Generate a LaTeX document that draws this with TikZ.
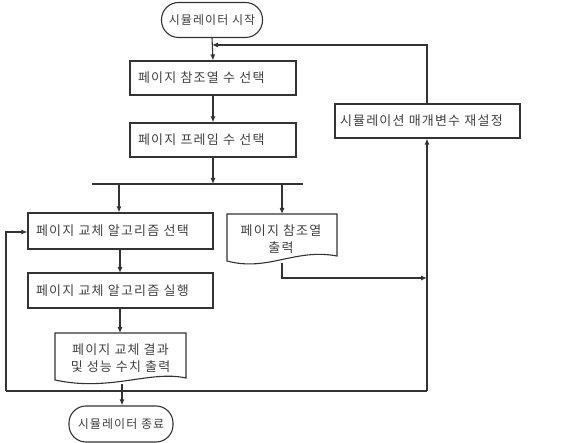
\documentclass[tikz,border=0pt]{standalone}
\usepackage{fontspec}
\setmainfont{Noto Sans CJK KR}[LetterSpace=9]
\usetikzlibrary{arrows.meta}
\begin{document}
\begin{tikzpicture}[x=1pt,y=-1pt,
  ln/.style={draw=black!80,line width=1.1pt},
  arr/.style={ln,-{Latex[length=6pt,width=5pt]}},
  procbox/.style={ln,rectangle,inner xsep=8pt,inner ysep=0pt,align=left,font=\fontsize{13}{15}\selectfont,text=black!75},
  termbox/.style={ln,rectangle,rounded corners=17pt,inner sep=0pt,font=\fontsize{12}{14}\selectfont,text=black!75},
  txt/.style={inner sep=0pt,font=\fontsize{13}{16.5}\selectfont,text=black!75,align=center}]
\useasboundingbox (0,0) rectangle (562,443);
% terminators
\node[termbox,minimum width=101pt,minimum height=35pt] (start) at (212,20) {시뮬레이터 시작};
\node[termbox,minimum width=104pt,minimum height=36pt] (stop) at (121,424) {시뮬레이터 종료};
% process boxes
\node[procbox,text width=150pt,minimum height=34pt] (b1) at (213,78) {페이지 참조열 수 선택};
\node[procbox,text width=150pt,minimum height=34pt] (b2) at (213,140) {페이지 프레임 수 선택};
\node[procbox,text width=169pt,minimum height=36pt] (b3) at (120.5,231) {페이지 교체 알고리즘 선택};
\node[procbox,text width=169pt,minimum height=35pt] (b4) at (120.5,290.5) {페이지 교체 알고리즘 실행};
\node[procbox,inner xsep=5pt,text width=175pt,minimum height=34pt] (reset) at (427.5,121) {시뮬레이션 매개변수 재설정};
% documents
\draw[ln] (227,214) -- (337,214) -- (337,256) .. controls (295,248) and (268,272) .. (227,261) -- cycle;
\node[txt] (d1) at (281,239) {페이지 참조열\\출력};
\coordinate (d1b) at (282,263);
\draw[ln] (55,333) -- (186,333) -- (186,378) .. controls (150,370) and (110,392) .. (55,380) -- cycle;
\node[txt] (d2) at (120.5,358) {페이지 교체 결과\\및 성능 수치 출력};
\coordinate (d2b) at (122,384);
% coordinates
\coordinate (j1) at (212,45);
\coordinate (bar) at (213,184);
\coordinate (barL) at (92,184);
\coordinate (barR) at (303,184);
\coordinate (bl) at (119,184);
\coordinate (br) at (282,184);
\coordinate (d1corner) at (282,278);
\coordinate (rline) at (427,278);
\coordinate (loopR) at (427,391);
\coordinate (loopL) at (6,391);
\coordinate (loopU) at (6,232);
\coordinate (resetTop) at (427,45);
% connectors
\draw[arr] (start.south) -- (b1.north);
\draw[arr] (b1.south) -- (b2.north);
\draw[arr] (b2.south) -- (bar);
\draw[ln] (barL) -- (barR);
\draw[arr] (bl) -- (bl |- b3.north);
\draw[arr] (br) -- (282,214);
\draw[arr] (120,249) -- (120,273);
\draw[arr] (120,308) -- (120,333);
\draw[arr] (d2b) -- (stop.north -| d2b);
\draw[arr] (d1b) -- (d1corner) -- (rline);
\draw[arr] (loopR) -- (reset.south -| loopR);
\draw[arr] (reset.north -| resetTop) -- (resetTop) -- (j1);
\draw[ln] (loopL) -- (loopR);
\draw[arr] (loopL) -- (loopU) -- (b3.west |- loopU);
\end{tikzpicture}
\end{document}
